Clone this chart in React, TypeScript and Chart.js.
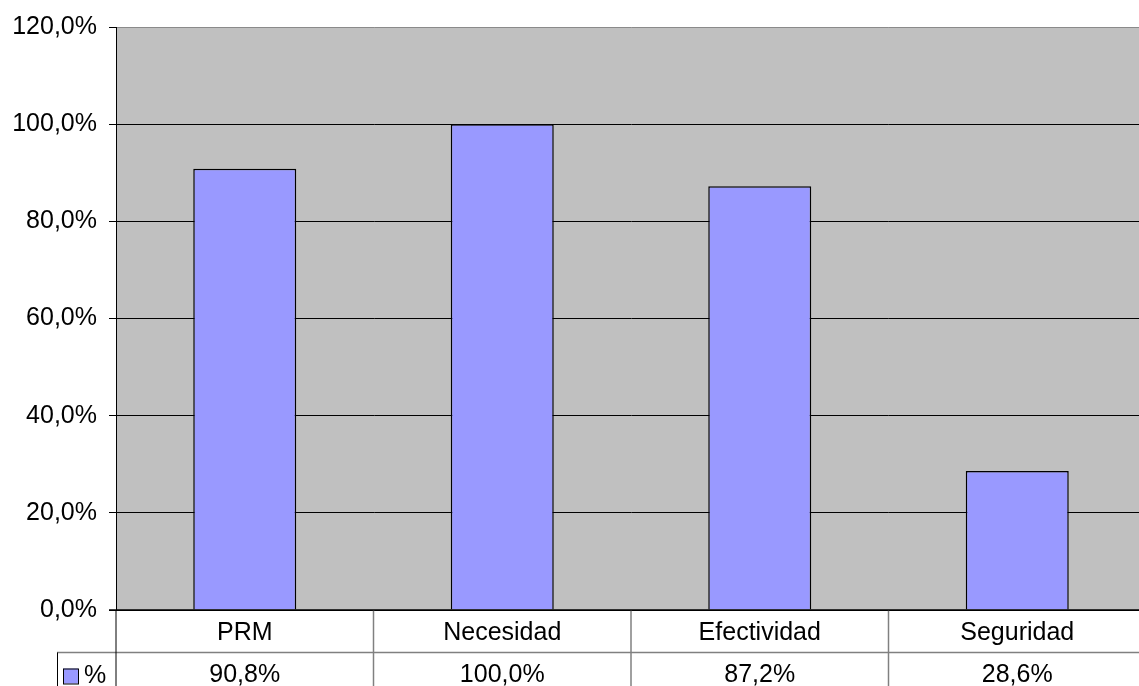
import React, { useEffect, useRef } from "react";
import { Chart, registerables } from "chart.js";

Chart.register(...registerables);

const categories = ["PRM", "Necesidad", "Efectividad", "Seguridad"];
const values = [90.8, 100.0, 87.2, 28.6];
const seriesName = "%";
const yTicks = [0, 20, 40, 60, 80, 100, 120];

const FONT = "Arial, 'Liberation Sans', sans-serif";
const FS = 25;
const fmt = (v: number) => v.toFixed(1).replace(".", ",") + "%";

const tablePlugin = {
  id: "dataTable",
  beforeDraw(chart: any) {
    const { ctx, chartArea } = chart;
    ctx.save();
    ctx.fillStyle = "#C0C0C0";
    ctx.fillRect(chartArea.left, chartArea.top, chartArea.right - chartArea.left, chartArea.bottom - chartArea.top);
    ctx.restore();
  },
  afterDraw(chart: any) {
    const { ctx, chartArea } = chart;
    const x = chart.scales.x;
    const n = categories.length;
    const bottom = chartArea.bottom;
    const row1 = bottom + 42.5;
    const legendLeft = 57;
    const step = (x.right - x.left) / n;
    ctx.save();
    ctx.strokeStyle = "#808080";
    ctx.lineWidth = 1.5;
    ctx.beginPath();
    ctx.moveTo(legendLeft, row1);
    ctx.lineTo(chart.width, row1);
    ctx.stroke();
    ctx.strokeStyle = "#000";
    ctx.lineWidth = 1;
    ctx.beginPath();
    ctx.moveTo(legendLeft + 0.5, row1);
    ctx.lineTo(legendLeft + 0.5, chart.height);
    ctx.stroke();
    ctx.beginPath();
    ctx.moveTo(x.left, bottom);
    ctx.lineTo(x.left, chart.height);
    ctx.stroke();
    ctx.strokeStyle = "#808080";
    ctx.lineWidth = 1.5;
    for (let i = 1; i < n; i++) {
      const px = x.left + step * i;
      ctx.beginPath();
      ctx.moveTo(px, bottom);
      ctx.lineTo(px, chart.height);
      ctx.stroke();
    }
    ctx.strokeStyle = "#000";
    ctx.lineWidth = 1.5;
    ctx.beginPath();
    ctx.moveTo(x.left - 7, bottom);
    ctx.lineTo(chart.width, bottom);
    ctx.stroke();
    ctx.fillStyle = "#000";
    ctx.font = `${FS}px ${FONT}`;
    ctx.textAlign = "center";
    ctx.textBaseline = "alphabetic";
    for (let i = 0; i < n; i++) {
      const cx = x.getPixelForTick(i);
      ctx.fillText(categories[i], cx, bottom + 30);
      ctx.fillText(fmt(values[i]), cx, row1 + 29.5);
    }
    ctx.fillStyle = "#9999FF";
    ctx.fillRect(63, row1 + 16, 15, 15);
    ctx.strokeStyle = "#000";
    ctx.lineWidth = 1;
    ctx.strokeRect(63.5, row1 + 16.5, 15, 15);
    ctx.fillStyle = "#000";
    ctx.textAlign = "left";
    ctx.fillText(seriesName, 84, row1 + 30);
    ctx.restore();
  },
};

export default function App() {
  const ref = useRef<HTMLCanvasElement>(null);
  useEffect(() => {
    document.body.style.margin = "0";
    document.body.style.overflow = "hidden";
    const chart = new Chart(ref.current!, {
      type: "bar",
      data: {
        labels: categories,
        datasets: [
          {
            label: seriesName,
            data: values,
            backgroundColor: "#9999FF",
            borderColor: "#000",
            borderWidth: 1.5,
            categoryPercentage: 1,
            barPercentage: 0.4,
          },
        ],
      },
      options: {
        animation: false,
        responsive: false,
        maintainAspectRatio: false,
        layout: { padding: { top: 26, bottom: 76, right: 0, left: 0 } },
        plugins: { legend: { display: false }, tooltip: { enabled: false } },
        scales: {
          x: {
            display: true,
            ticks: { display: false },
            grid: { display: false, drawTicks: false },
            border: { display: false },
            afterFit: (s: any) => { s.height = 0; },
          },
          y: {
            min: 0,
            max: 120,
            afterBuildTicks: (s: any) => { s.ticks = yTicks.map((v) => ({ value: v })); },
            afterFit: (s: any) => { s.width = 116; },
            ticks: {
              callback: (v: any) => fmt(Number(v)),
              color: "#000",
              font: { family: FONT, size: FS },
              padding: 12,
            },
            grid: {
              color: (c: any) => (c.tick && c.tick.value === 120 ? "#8a8a8a" : "#000"),
              tickColor: "#000",
              tickLength: 7,
              lineWidth: 1,
            },
            border: { display: true, color: "#000", width: 1 },
          },
        },
      },
      plugins: [tablePlugin],
    });
    return () => chart.destroy();
  }, []);
  return (
    <div style={{ position: "fixed", left: 0, top: 0, width: 1146, height: 686 }}>
      <canvas ref={ref} width={1146} height={686} style={{ width: 1146, height: 686 }} />
    </div>
  );
}
